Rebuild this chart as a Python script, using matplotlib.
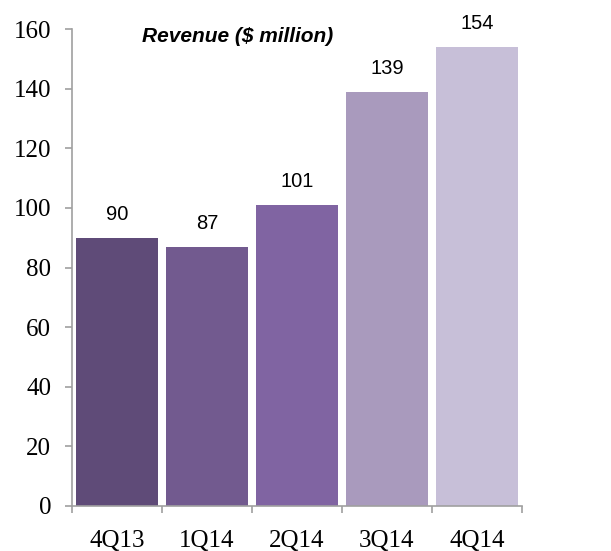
import matplotlib.pyplot as plt
import numpy as np

# Quarterly revenue
quarters = ["4Q13", "1Q14", "2Q14", "3Q14", "4Q14"]
revenue = [90, 87, 101, 139, 154]
bar_colors = ["#5f4b78", "#725a8f", "#8064a2", "#a99abd", "#c7bfd8"]

fig = plt.figure(figsize=(6.11, 5.51), dpi=100)
ax = fig.add_axes([72 / 611, 45 / 551, 450 / 611, 477 / 551])

x = np.arange(len(quarters))
bars = ax.bar(x, revenue, width=0.91, color=bar_colors, zorder=2)

for b, v in zip(bars, revenue):
    ax.annotate(str(v), (b.get_x() + b.get_width() / 2, v),
                xytext=(0, 10), textcoords="offset points",
                ha="center", va="bottom", fontsize=14.5,
                family="Liberation Sans")

ax.set_xlim(-0.5, len(quarters) - 0.5)
ax.set_ylim(0, 160)
ax.set_yticks(range(0, 161, 20))

# boundary ticks on the category axis, labels sit in between
ax.set_xticks(np.arange(len(quarters) + 1) - 0.5)
ax.set_xticklabels([])
ax.set_xticks(x, minor=True)
ax.set_xticklabels(quarters, minor=True)
ax.tick_params(axis="x", which="minor", length=0, pad=17)
ax.tick_params(axis="x", which="major", length=5, width=1.2, color="#a0a0a0")
ax.tick_params(axis="y", length=5, width=1.2, color="#a0a0a0", pad=10)

for lab in ax.get_xticklabels(minor=True) + ax.get_yticklabels():
    lab.set_family("Liberation Serif")
    lab.set_fontsize(18)

for side in ["top", "right"]:
    ax.spines[side].set_visible(False)
for side in ["left", "bottom"]:
    ax.spines[side].set_color("#a0a0a0")
    ax.spines[side].set_linewidth(1.2)

ax.text(0.367, 0.985, "Revenue ($ million)", transform=ax.transAxes,
        ha="center", va="center", fontsize=15, fontweight="bold",
        fontstyle="italic", family="Liberation Sans")

fig.savefig("out.png", dpi=100)
